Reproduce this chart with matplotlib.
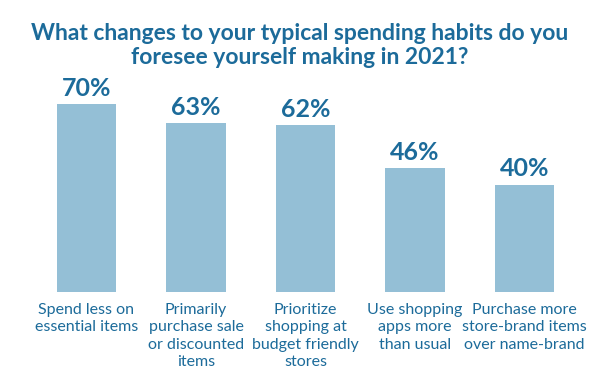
import matplotlib.pyplot as plt

categories = [
    "Spend less on\nessential items",
    "Primarily\npurchase sale\nor discounted\nitems",
    "Prioritize\nshopping at\nbudget friendly\nstores",
    "Use shopping\napps more\nthan usual",
    "Purchase more\nstore-brand items\nover name-brand",
]
values = [70, 63, 62, 46, 40]

title_color = "#1c6b9a"
bar_color = "#94bfd6"

plt.rcParams['font.family'] = ['Lato', 'DejaVu Sans']

fig = plt.figure(figsize=(6, 3.75), dpi=100)
ax = fig.add_axes([0, 0.2213, 1, 0.7787])

x = list(range(len(values)))
bars = ax.bar(x, values, width=0.54, color=bar_color)

for xi, v in zip(x, values):
    ax.annotate(f"{v}%", (xi, v), xytext=(0, 3), textcoords="offset points",
                ha="center", va="bottom", fontsize=18, fontweight="bold",
                color=title_color)
    ax.annotate(categories[xi], (xi, 0), xytext=(0, -8), textcoords="offset points",
                ha="center", va="top", fontsize=11.5, color=title_color,
                linespacing=1.3, annotation_clip=False)

ax.set_xlim(-86.5 / 109.5, (600 - 86.5) / 109.5)
ax.set_ylim(0, 292 / 2.686)
ax.axis("off")

fig.text(0.5, 0.94, "What changes to your typical spending habits do you\nforesee yourself making in 2021?",
         ha="center", va="top", fontsize=16.5, fontweight="bold", color=title_color,
         linespacing=1.2)

fig.savefig("out.png", dpi=100)
